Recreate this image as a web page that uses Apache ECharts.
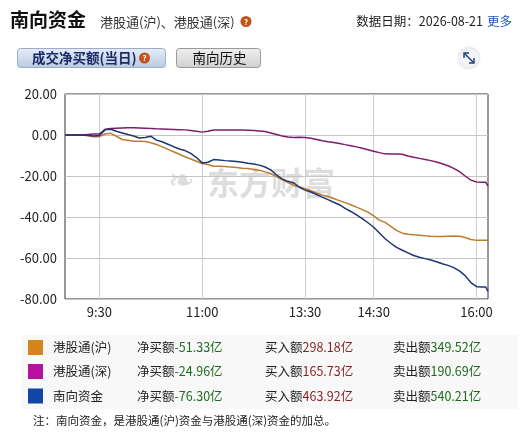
<!DOCTYPE html>
<html>
<head>
<meta charset="utf-8">
<script src="https://cdn.jsdelivr.net/npm/echarts@6/dist/echarts.min.js"></script>
<style>
html,body{margin:0;padding:0;background:#fff;}
#c{width:523px;height:433px;}
</style>
</head>
<body>
<div id="c"></div>
<script>
// ---- data ----
var times = ['09:00','09:05','09:10','09:15','09:20','09:25','09:30','09:35','09:40','09:45','09:50','09:55',
'10:00','10:05','10:10','10:15','10:20','10:25','10:30','10:35','10:40','10:45','10:50','10:55',
'11:00','11:05','11:10','11:15','11:20','11:25','11:30','11:35','11:40','11:45','11:50','11:55','12:00',
'13:05','13:10','13:15','13:20','13:25','13:30','13:35','13:40','13:45','13:50','13:55',
'14:00','14:05','14:10','14:15','14:20','14:25','14:30','14:35','14:40','14:45','14:50','14:55',
'15:00','15:05','15:10','15:15','15:20','15:25','15:30','15:35','15:40','15:45','15:50','15:55',
'16:00','16:05','16:08','16:10'];
var shValues = [0,0,0,0,-0.3,-0.8,-0.8,0.5,0.8,-0.6,-2.2,-2.6,
-3.0,-3.1,-3.2,-3.8,-4.6,-5.8,-7.0,-8.2,-9.4,-10.6,-11.7,-12.8,
-13.9,-14.4,-15.2,-15.3,-15.4,-15.6,-15.9,-16.2,-16.3,-16.8,-17.2,-18.0,-18.9,
-20.3,-21.7,-23.2,-24.6,-25.2,-26.2,-27.2,-28.3,-29.2,-30.0,-31.0,
-32.0,-33.0,-34.0,-35.2,-36.4,-37.6,-39.5,-41.5,-42.6,-44.6,-46.5,-47.9,
-48.4,-48.7,-48.9,-49.2,-49.4,-49.5,-49.5,-49.4,-49.3,-49.4,-50.0,-51.0,
-51.4,-51.4,-51.4,-51.33];
var szValues = [0,0,0,0,0.3,0.5,0.5,2.8,3.2,3.3,3.4,3.5,
3.5,3.4,3.3,3.2,3.0,2.9,2.8,2.7,2.6,2.5,2.2,1.8,
1.4,1.8,2.4,2.4,2.5,2.5,2.5,2.4,2.3,2.2,2.0,1.7,1.0,
0.2,-0.5,-1.0,-1.2,-1.1,-1.2,-1.6,-2.2,-2.8,-3.3,-3.7,
-4.1,-4.7,-5.2,-5.8,-6.5,-7.2,-7.9,-8.6,-9.2,-9.3,-9.3,-9.4,
-10.2,-10.9,-11.4,-11.9,-12.5,-13.2,-14.0,-15.0,-16.3,-17.9,-20.0,-22.0,
-22.9,-23.0,-23.1,-24.96];
var southValues = [0,0,0,0,-0.3,-0.5,-0.3,2.5,2.8,1.8,1.0,0.2,
-0.5,-1.5,-1.2,-0.6,-2.5,-3.3,-4.5,-5.7,-6.8,-7.6,-9.0,-11.0,
-13.6,-13.3,-12.0,-12.2,-12.5,-12.7,-12.9,-13.3,-13.8,-14.2,-14.7,-15.6,-17.0,
-19.5,-21.5,-22.6,-23.4,-25.5,-26.9,-27.8,-29.0,-30.3,-31.5,-32.8,
-34.0,-35.8,-37.3,-39.0,-40.8,-42.8,-45.0,-47.8,-50.6,-52.8,-54.8,-56.2,
-57.5,-58.8,-59.6,-60.3,-61.0,-61.8,-62.8,-63.6,-64.7,-66.3,-68.6,-72.0,
-74.0,-74.1,-74.2,-76.3];
var xTickLabels = ['9:30','11:00','13:30','14:30','16:00'];
var yMin = -80, yMax = 20, yStep = 20;

var seriesNames = ['港股通(沪)','港股通(深)','南向资金'];
var netBuy = ['-51.33','-24.96','-76.30'];
var buyIn = ['298.18','165.73','463.92'];
var sellOut = ['349.52','190.69','540.21'];

// ---- helpers ----
function toIdx(t){
  var p = t.split(':'); var m = (+p[0])*60 + (+p[1]);
  return m <= 720 ? m - 540 : m - 780 + 180;
}
function pairs(vals){ return times.map(function(t,i){ return [toIdx(t), vals[i]]; }); }
var tickIdx = xTickLabels.map(toIdx);
var labelMap = {}; tickIdx.forEach(function(v,i){ labelMap[v] = xTickLabels[i]; });

var lineColors = ['#bd7b2c','#7c1d6c','#1d3572'];
var boxColors = ['#d4861c','#b4119f','#1246a6'];
var F = '"Noto Sans CJK SC", "Noto Sans", sans-serif';

var chart = echarts.init(document.getElementById('c'), null, {renderer:'canvas'});

var graphics = [];
// header
graphics.push({type:'text', left:10, top:10, style:{text:'南向资金', font:'bold 19px '+F, fill:'#111'}});
graphics.push({type:'text', x:100, y:22, style:{text:'港股通(沪)、港股通(深)', font:'13px '+F, fill:'#333', verticalAlign:'middle'}});
graphics.push({type:'circle', shape:{cx:246, cy:21.5, r:5.5}, style:{fill:'#c4521c'}});
graphics.push({type:'text', x:246, y:21.5, style:{text:'?', font:'bold 8px '+F, fill:'#fff', align:'center', verticalAlign:'middle'}});
graphics.push({type:'text', x:483, y:21.5, style:{text:'数据日期：2026-08-21', font:'12.5px '+F, fill:'#222', align:'right', verticalAlign:'middle'}});
graphics.push({type:'text', x:487, y:21.5, style:{text:'更多', font:'12.5px '+F, fill:'#1a56b8', align:'left', verticalAlign:'middle'}});
// buttons
graphics.push({type:'rect', shape:{x:17.5, y:48.5, width:148, height:19, r:3},
  style:{fill:new echarts.graphic.LinearGradient(0,0,0,1,[{offset:0,color:'#e6edf7'},{offset:1,color:'#b9c9e1'}]), stroke:'#9aaecb', lineWidth:1}});
graphics.push({type:'text', x:32, y:58, style:{text:'成交净买额(当日)', font:'bold 13.5px '+F, fill:'#1a2b66', verticalAlign:'middle'}});
graphics.push({type:'circle', shape:{cx:144.5, cy:58, r:5.5}, style:{fill:'#c4521c'}});
graphics.push({type:'text', x:144.5, y:58, style:{text:'?', font:'bold 8px '+F, fill:'#fff', align:'center', verticalAlign:'middle'}});
graphics.push({type:'rect', shape:{x:176.5, y:48.5, width:84, height:19, r:3},
  style:{fill:new echarts.graphic.LinearGradient(0,0,0,1,[{offset:0,color:'#f0f0f0'},{offset:1,color:'#cfcfcf'}]), stroke:'#9a9a9a', lineWidth:1}});
graphics.push({type:'text', x:219.5, y:58, style:{text:'南向历史', font:'13.5px '+F, fill:'#111', align:'center', verticalAlign:'middle'}});
// expand icon
graphics.push({type:'circle', shape:{cx:469, cy:58, r:10}, style:{fill:'#f1f3f6', shadowBlur:3, shadowColor:'rgba(0,0,0,0.25)'}});
graphics.push({type:'line', shape:{x1:464.5, y1:53.5, x2:473.5, y2:62.5}, style:{stroke:'#1f3f7a', lineWidth:1.4}});
graphics.push({type:'polyline', shape:{points:[[464,58],[464,53],[469,53]]}, style:{stroke:'#1f3f7a', lineWidth:1.4, fill:null}});
graphics.push({type:'polyline', shape:{points:[[469,63],[474,63],[474,58]]}, style:{stroke:'#1f3f7a', lineWidth:1.4, fill:null}});
// watermark
graphics.push({type:'text', x:168, y:183, z:-1, style:{text:'\u2767', font:'32px "DejaVu Sans"', fill:'rgba(170,170,170,0.4)', verticalAlign:'middle'}});
graphics.push({type:'text', x:207, y:183, z:-1, style:{text:'东方财富', font:'bold 32px '+F, fill:'rgba(170,170,170,0.4)', verticalAlign:'middle'}});
// legend table
graphics.push({type:'rect', shape:{x:22, y:335, width:496, height:74}, z:-2, style:{fill:'#f8f8f8'}});
var rowY = [347.5, 371.5, 396];
seriesNames.forEach(function(n,i){
  var y = rowY[i];
  graphics.push({type:'rect', shape:{x:28, y:y-7.5, width:15, height:15}, style:{fill:boxColors[i]}});
  graphics.push({type:'text', x:53, y:y, style:{text:n, font:'12.5px '+F, fill:'#222', verticalAlign:'middle'}});
  graphics.push({type:'text', x:137, y:y, style:{text:'{a|净买额}{g|'+netBuy[i]+'亿}', verticalAlign:'middle',
    rich:{a:{font:'12.5px '+F, fill:'#222'}, g:{font:'12.5px '+F, fill:'#1d6b1d'}}}});
  graphics.push({type:'text', x:265, y:y, style:{text:'{a|买入额}{r|'+buyIn[i]+'亿}', verticalAlign:'middle',
    rich:{a:{font:'12.5px '+F, fill:'#222'}, r:{font:'12.5px '+F, fill:'#8a1f1f'}}}});
  graphics.push({type:'text', x:393, y:y, style:{text:'{a|卖出额}{g|'+sellOut[i]+'亿}', verticalAlign:'middle',
    rich:{a:{font:'12.5px '+F, fill:'#222'}, g:{font:'12.5px '+F, fill:'#1d6b1d'}}}});
});
graphics.push({type:'text', x:33, y:421, style:{text:'注：南向资金，是港股通(沪)资金与港股通(深)资金的加总。', font:'11.5px '+F, fill:'#222', verticalAlign:'middle'}});

var option = {
  animation:false,
  backgroundColor:'#fff',
  grid:{left:65, top:94, right:35, bottom:134, show:true, borderColor:'#333', borderWidth:1, backgroundColor:'transparent'},
  xAxis:{
    type:'value', min:0, max:370,
    axisLine:{show:false},
    axisTick:{show:false, customValues:tickIdx},
    axisLabel:{customValues:tickIdx, formatter:function(v){return labelMap[v]||'';}, color:'#222', fontSize:13, fontFamily:F, margin:7},
    splitLine:{show:true, lineStyle:{color:'#cfcfcf', width:1}}
  },
  yAxis:{
    type:'value', min:yMin, max:yMax, interval:yStep,
    axisLine:{show:false}, axisTick:{show:false},
    axisLabel:{formatter:function(v){return v.toFixed(2);}, color:'#222', fontSize:13, fontFamily:F, margin:8},
    splitLine:{show:true, lineStyle:{color:'#c4c4c4', width:1}}
  },
  series:[
    {name:seriesNames[0], type:'line', data:pairs(shValues), showSymbol:false, lineStyle:{color:lineColors[0], width:1.5}, itemStyle:{color:lineColors[0]}},
    {name:seriesNames[1], type:'line', data:pairs(szValues), showSymbol:false, lineStyle:{color:lineColors[1], width:1.5}, itemStyle:{color:lineColors[1]}},
    {name:seriesNames[2], type:'line', data:pairs(southValues), showSymbol:false, lineStyle:{color:lineColors[2], width:1.5}, itemStyle:{color:lineColors[2]}}
  ],
  graphic:graphics
};
chart.setOption(option);
</script>
</body>
</html>
